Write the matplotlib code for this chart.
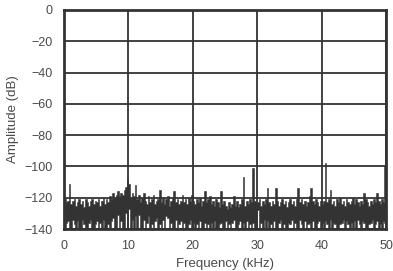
import numpy as np
import matplotlib
matplotlib.use("Agg")
import matplotlib.pyplot as plt

plt.rcParams['font.family'] = ['Liberation Sans', 'DejaVu Sans']

# FFT bins: 0.25 kHz wide, each bin has a peak and a trough reading (dB)
bin_khz = 0.25

peak_db = [
    # 0 - 10 kHz
    -121, -123, -122, -111, -124, -122, -121, -125, -123, -121,
    -124, -122, -126, -121, -123, -125, -122, -121, -124, -122,
    -123, -121, -125, -122, -120, -124, -121, -123, -119, -121,
    -117, -120, -118, -116, -119, -117, -118, -115, -113, -108,
    # 10 - 20 kHz
    -111, -120, -117, -119, -112, -121, -118, -123, -120, -117,
    -122, -124, -119, -123, -121, -118, -124, -122, -121, -115,
    -123, -120, -124, -121, -119, -125, -122, -120, -116, -123,
    -121, -124, -122, -118, -123, -121, -124, -120, -122, -118,
    # 20 - 30 kHz
    -122, -124, -121, -123, -120, -125, -122, -116, -123, -121,
    -119, -124, -122, -125, -121, -123, -126, -116, -124, -122,
    -125, -127, -123, -126, -124, -119, -125, -122, -126, -124,
    -121, -107, -125, -122, -124, -121, -123, -101, -122, -124,
    # 30 - 40 kHz
    -123, -121, -125, -122, -124, -121, -114, -123, -125, -122,
    -124, -114, -122, -125, -123, -121, -124, -122, -126, -123,
    -121, -124, -122, -125, -121, -114, -123, -121, -124, -122,
    -125, -123, -119, -114, -122, -124, -121, -123, -125, -122,
    # 40 - 50 kHz
    -124, -122, -98, -123, -121, -115, -124, -122, -125, -121,
    -123, -120, -124, -122, -125, -121, -123, -124, -122, -120,
    -124, -121, -123, -125, -122, -124, -117, -121, -123, -125,
    -122, -124, -121, -123, -117, -122, -124, -121, -123, -100,
]

trough_db = [
    # 0 - 10 kHz
    -140, -136, -135, -140, -140, -134, -137, -140, -135, -140,
    -140, -134, -137, -140, -140, -136, -134, -140, -140, -137,
    -135, -140, -136, -140, -134, -140, -140, -137, -140, -135,
    -133, -140, -140, -131, -140, -135, -140, -140, -130, -140,
    # 10 - 20 kHz
    -127, -140, -134, -140, -132, -140, -131, -140, -140, -134,
    -140, -136, -132, -140, -137, -140, -135, -133, -140, -137,
    -140, -134, -140, -132, -133, -140, -136, -140, -140, -134,
    -140, -137, -135, -140, -136, -140, -140, -137, -134, -140,
    # 20 - 30 kHz
    -136, -140, -137, -140, -135, -140, -140, -136, -140, -137,
    -140, -136, -140, -135, -140, -140, -137, -136, -140, -140,
    -135, -140, -137, -140, -136, -134, -140, -140, -137, -135,
    -140, -136, -140, -135, -140, -137, -140, -136, -140, -140,
    # 30 - 40 kHz
    -128, -140, -136, -140, -134, -140, -135, -140, -137, -140,
    -135, -140, -140, -136, -134, -140, -137, -140, -140, -136,
    -137, -134, -140, -136, -140, -140, -134, -137, -140, -135,
    -140, -137, -136, -140, -135, -140, -140, -136, -135, -140,
    # 40 - 50 kHz
    -136, -140, -135, -137, -140, -134, -140, -136, -137, -140,
    -140, -137, -136, -134, -140, -135, -137, -140, -136, -140,
    -135, -140, -134, -137, -140, -135, -136, -140, -140, -137,
    -136, -134, -140, -137, -135, -140, -137, -140, -135, -136,
]

x_ticks = [0, 10, 20, 30, 40, 50]
y_ticks = [0, -20, -40, -60, -80, -100, -120, -140]

n = len(peak_db)
freq = (np.arange(n) + 0.5) * bin_khz

ink = '#333333'
txt = '#4a4a4a'
fig = plt.figure(figsize=(3.93, 2.71), dpi=100)
ax = fig.add_axes([64 / 393, 1 - 229 / 271, 322 / 393, 219 / 271])

# each bin filled over the span the trace sweeps between trough and peak
ax.fill_between(freq, trough_db, peak_db, step='mid', color=ink, lw=0.4,
                edgecolor=ink, zorder=2)

ax.set_xlim(0, 50)
ax.set_ylim(-140, 0)
ax.set_xticks(x_ticks)
ax.set_yticks(y_ticks)
ax.grid(True, color=ink, lw=1.3, zorder=3)
ax.set_axisbelow(False)
for s in ax.spines.values():
    s.set_color(ink)
    s.set_linewidth(2)
    s.set_zorder(4)
ax.tick_params(length=0, labelsize=9, labelcolor=txt, pad=8)
ax.set_xlabel('Frequency (kHz)', fontsize=9.5, color=txt, labelpad=4)
ax.set_ylabel('Amplitude (dB)', fontsize=9.5, color=txt, labelpad=4)

fig.savefig('out.png', dpi=100)
